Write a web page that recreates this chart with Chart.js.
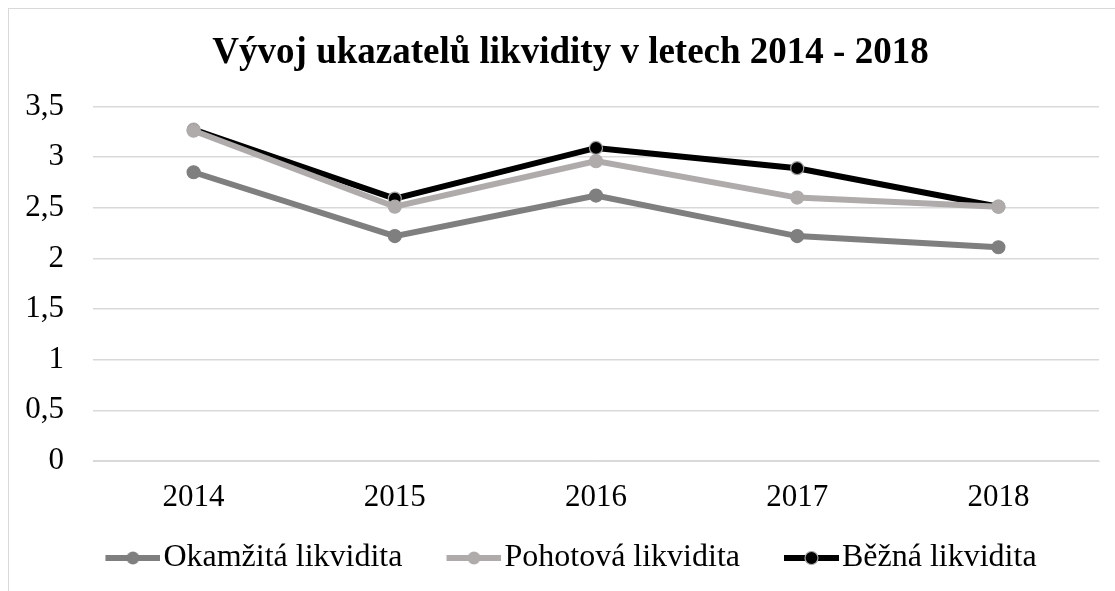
<!DOCTYPE html>
<html>
<head>
<meta charset="utf-8">
<title>Vývoj ukazatelů likvidity</title>
<script src="https://cdn.jsdelivr.net/npm/chart.js"></script>
<style>
html,body{margin:0;padding:0;background:#fff;overflow:hidden}
.box{position:absolute;left:8px;top:8px;width:1125px;height:610px;border:1px solid #d9d9d9;box-sizing:border-box}
canvas{display:block}
</style>
</head>
<body>
<div class="box"><canvas id="chart" width="1123" height="575"></canvas></div>

<script>
const years = ['2014','2015','2016','2017','2018'];
const okamzita = [2.85, 2.22, 2.62, 2.22, 2.11];
const pohotova = [3.26, 2.51, 2.96, 2.60, 2.51];
const bezna = [3.27, 2.59, 3.09, 2.89, 2.51];
const yTicks = [0, 0.5, 1, 1.5, 2, 2.5, 3, 3.5];

const serif = "'Liberation Serif','Times New Roman',serif";

// legend marker: short line with a dot, transparent strip on the left
function marker(color, border){
  const c = document.createElement('canvas');
  c.width = 69; c.height = 16;
  const g = c.getContext('2d');
  g.strokeStyle = color; g.lineWidth = 6;
  g.beginPath(); g.moveTo(14,8); g.lineTo(69,8); g.stroke();
  g.fillStyle = color;
  g.beginPath(); g.arc(41.5,8,6.5,0,Math.PI*2); g.fill();
  if(border){ g.strokeStyle = border; g.lineWidth = 1.2; g.stroke(); }
  return c;
}

function ds(label, data, color, border){
  return {
    label, data,
    borderColor: color, backgroundColor: color,
    borderWidth: 6,
    pointRadius: 6.5, pointHoverRadius: 6.5,
    pointBackgroundColor: color,
    pointBorderColor: border || color,
    pointBorderWidth: 1.2,
    tension: 0,
    legendMarker: marker(color, border)
  };
}

const chart = new Chart(document.getElementById('chart'), {
  type: 'line',
  data: {
    labels: years,
    datasets: [
      ds('Okamžitá likvidita', okamzita, '#7f7f7f'),
      ds('Pohotová likvidita', pohotova, '#afabab'),
      ds('Běžná likvidita', bezna, '#000000', '#a6a6a6')
    ]
  },
  options: {
    responsive: false,
    animation: false,
    events: [],
    layout: { padding: { left: 0, right: 0, top: 16, bottom: 0 } },
    plugins: {
      title: {
        display: true,
        text: 'Vývoj ukazatelů likvidity v letech 2014 - 2018',
        color: '#000',
        font: { family: serif, size: 37, weight: 'bold' },
        padding: { top: 6, bottom: 31 }
      },
      legend: {
        position: 'bottom',
        labels: {
          color: '#000',
          font: { family: serif, size: 32 },
          usePointStyle: true,
          pointStyleWidth: 43,
          padding: 43,
          generateLabels: ch => ch.data.datasets.map((d, i) => ({
            text: d.label,
            pointStyle: d.legendMarker,
            fillStyle: d.borderColor,
            strokeStyle: d.borderColor,
            lineWidth: 0,
            fontColor: '#000',
            datasetIndex: i
          }))
        }
      },
      tooltip: { enabled: false }
    },
    scales: {
      x: {
        offset: true,
        grid: { display: false, drawTicks: false, offset: true },
        border: { color: '#d9d9d9', width: 1 },
        ticks: { color: '#000', font: { family: serif, size: 31 }, padding: 18 },
        afterFit: s => {
          s.height = 38;
          // labels hang below the short axis box, so don't clip them
          s._computeLabelArea = () => undefined;
        }
      },
      y: {
        min: 0, max: 3.5,
        afterBuildTicks: s => { s.ticks = yTicks.map(v => ({ value: v })); },
        grid: { color: '#d9d9d9', lineWidth: 1.5, drawTicks: false },
        border: { display: false },
        ticks: {
          color: '#000', font: { family: serif, size: 31 }, padding: 29,
          callback: v => String(v).replace('.', ',')
        },
        afterFit: s => { s.width = 84; }
      },
      // empty right axis, only keeps space on the right of the plot
      yRight: {
        position: 'right',
        display: true,
        grid: { display: false, drawTicks: false },
        border: { display: false },
        ticks: { display: false },
        afterFit: s => { s.width = 33; }
      }
    }
  }
});
</script>
</body>
</html>
